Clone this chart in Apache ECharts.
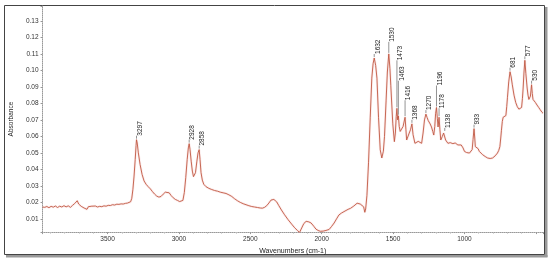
<!DOCTYPE html>
<html>
<head>
<meta charset="utf-8">
<script src="https://cdn.jsdelivr.net/npm/echarts@6/dist/echarts.min.js"></script>
<style>
html, body { margin: 0; padding: 0; background: #fff; }
#main { width: 550px; height: 260px; }
</style>
</head>
<body>
<div id="main"></div>
<script>
// IR spectrum
var wavenumbers = [
    3955, 3940, 3925, 3910, 3895, 3880, 3865, 3850, 3835, 3820, 3805, 3790, 3775, 3760, 3745, 3730,
    3720, 3712, 3702, 3694, 3684, 3674, 3664, 3654, 3644, 3634, 3622, 3610, 3598, 3585, 3570, 3555,
    3540, 3525, 3510, 3495, 3480, 3465, 3450, 3435, 3420, 3405, 3390, 3375, 3360, 3348, 3338, 3330,
    3322, 3314, 3306, 3300, 3297, 3292, 3284, 3272, 3258, 3244, 3230, 3215, 3200, 3185, 3170, 3155,
    3140, 3125, 3110, 3095, 3082, 3068, 3055, 3040, 3025, 3010, 2995, 2982, 2972, 2962, 2952, 2942,
    2934, 2928, 2922, 2914, 2906, 2898, 2892, 2884, 2874, 2866, 2858, 2852, 2845, 2836, 2826, 2810,
    2790, 2770, 2750, 2730, 2710, 2690, 2670, 2650, 2630, 2610, 2590, 2570, 2550, 2530, 2510, 2490,
    2470, 2450, 2430, 2415, 2400, 2385, 2370, 2355, 2345, 2335, 2325, 2315, 2300, 2282, 2260, 2235,
    2210, 2189, 2170, 2155, 2140, 2125, 2109, 2090, 2074, 2055, 2040, 2025, 2010, 2000, 1990, 1982,
    1970, 1960, 1948, 1930, 1913, 1896, 1879, 1862, 1844, 1830, 1815, 1798, 1785, 1775, 1764, 1752,
    1741, 1730, 1718, 1706, 1698, 1692, 1683, 1672, 1660, 1649, 1640, 1632, 1622, 1613, 1602, 1590,
    1579, 1568, 1560, 1549, 1540, 1530, 1522, 1516, 1502, 1491, 1484, 1478, 1473, 1468, 1463, 1457,
    1450, 1440, 1430, 1416, 1410, 1405, 1395, 1387, 1378, 1368, 1360, 1347, 1335, 1324, 1312, 1300,
    1290, 1280, 1270, 1262, 1254, 1240, 1231, 1222, 1215, 1208, 1202, 1196, 1190, 1185, 1178, 1172,
    1166, 1155, 1146, 1138, 1132, 1116, 1100, 1081, 1065, 1046, 1035, 1023, 1010, 1000, 985, 965,
    952, 946, 940, 933, 928, 924, 918, 912, 904, 896, 885, 873, 855, 838, 820, 803,
    785, 769, 760, 752, 746, 741, 735, 729, 720, 710, 704, 699, 690, 681, 673, 665,
    653, 641, 630, 619, 610, 600, 594, 589, 583, 577, 570, 561, 555, 549, 543, 538,
    534, 530, 525, 520, 512, 503, 492, 480, 470, 457, 450
];
var absorbance = [
    0.0172, 0.0170, 0.0175, 0.0168, 0.0176, 0.0171, 0.0178, 0.0169, 0.0177, 0.0172, 0.0180, 0.0173, 0.0179, 0.0170, 0.0182, 0.0193,
    0.0186, 0.0210, 0.0190, 0.0202, 0.0176, 0.0187, 0.0166, 0.0178, 0.0158, 0.0174, 0.0165, 0.0177, 0.0169, 0.0178, 0.0172, 0.0176,
    0.0174, 0.0179, 0.0177, 0.0182, 0.0181, 0.0186, 0.0184, 0.0189, 0.0188, 0.0191, 0.0190, 0.0194, 0.0196, 0.0198, 0.0204, 0.0225,
    0.0280, 0.0360, 0.0460, 0.0545, 0.0580, 0.0560, 0.0500, 0.0430, 0.0370, 0.0330, 0.0310, 0.0295, 0.0282, 0.0265, 0.0250, 0.0238,
    0.0232, 0.0236, 0.0250, 0.0262, 0.0266, 0.0258, 0.0242, 0.0228, 0.0218, 0.0212, 0.0205, 0.0202, 0.0212, 0.0260, 0.0350, 0.0460,
    0.0530, 0.0556, 0.0520, 0.0450, 0.0390, 0.0356, 0.0350, 0.0380, 0.0450, 0.0500, 0.0520, 0.0460, 0.0380, 0.0335, 0.0310, 0.0295,
    0.0285, 0.0278, 0.0272, 0.0268, 0.0262, 0.0258, 0.0254, 0.0246, 0.0236, 0.0222, 0.0210, 0.0200, 0.0192, 0.0186, 0.0180, 0.0175,
    0.0172, 0.0169, 0.0166, 0.0165, 0.0170, 0.0180, 0.0196, 0.0214, 0.0222, 0.0218, 0.0212, 0.0203, 0.0180, 0.0154, 0.0125, 0.0095,
    0.0068, 0.0046, 0.0030, 0.0018, 0.0045, 0.0072, 0.0085, 0.0082, 0.0075, 0.0055, 0.0038, 0.0030, 0.0025, 0.0032, 0.0026, 0.0036,
    0.0030, 0.0040, 0.0036, 0.0055, 0.0075, 0.0100, 0.0124, 0.0135, 0.0144, 0.0152, 0.0158, 0.0164, 0.0172, 0.0178, 0.0188, 0.0195,
    0.0200, 0.0190, 0.0183, 0.0173, 0.0140, 0.0160, 0.0243, 0.0440, 0.0716, 0.0953, 0.1040, 0.1075, 0.1030, 0.0953, 0.0716, 0.0519,
    0.0469, 0.0510, 0.0600, 0.0815, 0.0990, 0.1100, 0.1010, 0.0910, 0.0676, 0.0568, 0.0620, 0.0720, 0.0770, 0.0700, 0.0725, 0.0660,
    0.0630, 0.0640, 0.0660, 0.0716, 0.0640, 0.0578, 0.0590, 0.0620, 0.0640, 0.0676, 0.0610, 0.0558, 0.0565, 0.0570, 0.0562, 0.0558,
    0.0620, 0.0700, 0.0735, 0.0715, 0.0696, 0.0675, 0.0657, 0.0630, 0.0608, 0.0660, 0.0740, 0.0775, 0.0710, 0.0657, 0.0716, 0.0640,
    0.0578, 0.0600, 0.0620, 0.0627, 0.0578, 0.0558, 0.0562, 0.0556, 0.0560, 0.0548, 0.0552, 0.0548, 0.0530, 0.0509, 0.0502, 0.0499,
    0.0505, 0.0520, 0.0580, 0.0647, 0.0590, 0.0538, 0.0545, 0.0548, 0.0525, 0.0509, 0.0498, 0.0489, 0.0478, 0.0469, 0.0466, 0.0469,
    0.0482, 0.0499, 0.0515, 0.0538, 0.0590, 0.0637, 0.0690, 0.0716, 0.0722, 0.0726, 0.0780, 0.0834, 0.0930, 0.0992, 0.0960, 0.0913,
    0.0850, 0.0805, 0.0780, 0.0765, 0.0770, 0.0775, 0.0830, 0.0893, 0.0990, 0.1061, 0.0980, 0.0893, 0.0850, 0.0824, 0.0830, 0.0844,
    0.0880, 0.0913, 0.0860, 0.0824, 0.0815, 0.0805, 0.0790, 0.0775, 0.0762, 0.0746, 0.0740
];
var peakLabels = [3297, 2928, 2858, 1632, 1530, 1473, 1463, 1416, 1368, 1270, 1196, 1178, 1138, 933, 681, 577, 530];
var xTickLabels = [3500, 3000, 2500, 2000, 1500, 1000];
var yTickLabels = ['0.01', '0.02', '0.03', '0.04', '0.05', '0.06', '0.07', '0.08', '0.09', '0.10', '0.11', '0.12', '0.13'];

// how far (px) each peak label sits above its peak
var labelLift = [3, 3, 3, 3, 11, 47, 34, 16, 3, 3, 21, 8, 3, 3, 3, 3, 3];

var spectrum = wavenumbers.map(function (w, i) { return [w, absorbance[i]]; });

function absAt(w) {
    var best = 0;
    for (var i = 0; i < wavenumbers.length; i++) {
        if (Math.abs(wavenumbers[i] - w) < Math.abs(wavenumbers[best] - w)) best = i;
    }
    return absorbance[best];
}

var font = 'Liberation Sans';
var chart = echarts.init(document.getElementById('main'), null, {renderer: 'canvas'});

var option = {
    animation: false,
    backgroundColor: '#fff',
    grid: {left: 35, right: 7, top: 6, bottom: 22},
    xAxis: {
        type: 'value',
        inverse: true,
        min: 450,
        max: 3955,
        splitNumber: 7,
        name: 'Wavenumbers (cm-1)',
        nameLocation: 'middle',
        nameGap: 10,
        nameTextStyle: {fontSize: 7, color: '#222', fontFamily: font},
        axisLine: {lineStyle: {color: '#999', type: 'dotted'}},
        axisTick: {length: 2, lineStyle: {color: '#999'}},
        minorTick: {show: true, splitNumber: 5, length: 1.5, lineStyle: {color: '#bbb'}},
        axisLabel: {
            fontSize: 6.5, color: '#333', margin: 4, fontFamily: font,
            formatter: function (v) { return xTickLabels.indexOf(v) >= 0 ? String(v) : ''; }
        },
        splitLine: {show: false}
    },
    yAxis: {
        type: 'value',
        min: 0.002,
        max: 0.139,
        splitNumber: 13,
        name: 'Absorbance',
        nameLocation: 'middle',
        nameGap: 22,
        nameTextStyle: {fontSize: 6.5, color: '#222', fontFamily: font},
        axisLine: {show: true, lineStyle: {color: '#999', type: 'dotted'}},
        axisTick: {show: true, length: 2, lineStyle: {color: '#999'}},
        axisLabel: {
            fontSize: 6.5, color: '#333', margin: 4, fontFamily: font,
            formatter: function (v) {
                var s = v.toFixed(2);
                return (yTickLabels.indexOf(s) >= 0 && Math.abs(v - parseFloat(s)) < 1e-6) ? s : '';
            }
        },
        splitLine: {show: false}
    },
    series: [
        {   // soft halo under the trace
            type: 'line',
            data: spectrum,
            showSymbol: false,
            silent: true,
            lineStyle: {color: 'rgba(240,150,150,0.18)', width: 2.5}
        },
        {
            type: 'line',
            data: spectrum,
            showSymbol: false,
            lineStyle: {color: '#bf5842', width: 0.9}
        },
        {
            type: 'custom',
            silent: true,
            z: 5,
            data: peakLabels.map(function (w, i) { return [w, absAt(w), i]; }),
            renderItem: function (params, api) {
                var p = api.coord([api.value(0), api.value(1)]);
                var top = p[1] - 1 - labelLift[api.value(2)];
                return {
                    type: 'group',
                    children: [
                        {type: 'line', shape: {x1: p[0], y1: p[1] - 1, x2: p[0], y2: top},
                            style: {stroke: '#777', lineWidth: 0.8}},
                        {type: 'text', x: p[0] + 3.5, y: top, rotation: Math.PI / 2,
                            style: {text: String(api.value(0)), fontSize: 6.5, fill: '#222',
                                fontFamily: font, align: 'left', verticalAlign: 'middle'}}
                    ]
                };
            }
        }
    ],
    graphic: [
        {type: 'rect', shape: {x: 545, y: 7, width: 2.5, height: 250}, style: {fill: '#999'}},
        {type: 'rect', shape: {x: 6, y: 255, width: 541.5, height: 2.5}, style: {fill: '#999'}},
        {type: 'rect', shape: {x: 4.5, y: 5.5, width: 540, height: 249}, style: {fill: 'none', stroke: '#444', lineWidth: 1}}
    ]
};

chart.setOption(option);
</script>
</body>
</html>
